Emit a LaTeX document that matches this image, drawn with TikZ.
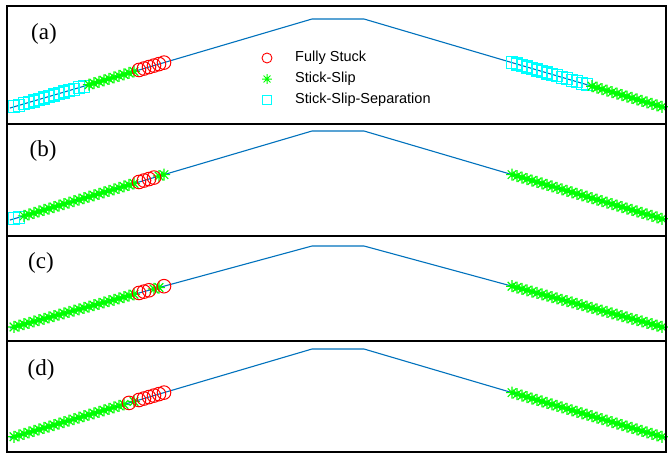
\documentclass[tikz,border=0pt]{standalone}
\usepackage{fontspec}
\setmainfont{Liberation Serif}
\newfontfamily\legendfont{Liberation Sans}
\usetikzlibrary{calc}

\definecolor{curveblue}{RGB}{0,114,189}
\definecolor{slipgreen}{RGB}{0,255,0}
\definecolor{sepcyan}{RGB}{0,255,255}

\tikzset{
  frameline/.style={line width=1.6pt, black},
  curve/.style={curveblue, line width=1.1pt},
  panellabel/.style={font=\fontsize{23}{23}\selectfont, inner sep=0pt},
  legendtext/.style={font=\legendfont\fontsize{14.5}{15}\selectfont, anchor=west, inner sep=0pt},
  pics/stuckmk/.style={code={\draw[red, line width=1pt] (0,0) circle[radius=6.8];}},
  pics/slipmk/.style={code={\draw[slipgreen, line width=1.2pt]
      (-6,0) -- (6,0) (0,-6) -- (0,6) (-4.3,-4.3) -- (4.3,4.3) (-4.3,4.3) -- (4.3,-4.3);}},
  pics/sepmk/.style={code={\draw[sepcyan, line width=1.2pt] (-5.8,-6) rectangle (5.8,6);}},
  pics/stuckleg/.style={code={\draw[red, line width=0.9pt] (0,0) circle[radius=5];}},
  pics/slipleg/.style={code={\draw[slipgreen, line width=1pt]
      (-4.8,0) -- (4.8,0) (0,-4.8) -- (0,4.8) (-3.4,-3.4) -- (3.4,3.4) (-3.4,3.4) -- (3.4,-3.4);}},
  pics/sepleg/.style={code={\draw[sepcyan, line width=1pt] (-4.5,-4.5) rectangle (4.5,4.5);}},
}

% markers along the left flank (from the outer end inward) and the right flank
\newcommand\leftmarks[3]{%
  \foreach \j [evaluate=\j as \t using (4+5*\j)/302] in {#2}
    \pic at ($(L#1)!\t!(TL#1)$) {#3};}
\newcommand\rightmarks[3]{%
  \foreach \j [evaluate=\j as \t using (4+5*\j)/302] in {#2}
    \pic at ($(R#1)!\t!(TR#1)$) {#3};}

\begin{document}
\begin{tikzpicture}[x=1pt,y=-1pt]
\useasboundingbox (0,0) rectangle (668,453);
\fill[white] (0,0) rectangle (668,453);

% profile of each panel: outer ends, top plateau
\foreach \p/\yt/\yb in {a/19/108, b/131/220, c/246/328, d/349/438}{
  \coordinate (L\p) at (10,\yb);
  \coordinate (TL\p) at (312,\yt);
  \coordinate (TR\p) at (364,\yt);
  \coordinate (R\p) at (666,\yb);
}
\begin{scope}
  \clip (7,6) rectangle (666,452);
  \foreach \p in {a,b,c,d}
    \draw[curve] (L\p) -- (TL\p) -- (TR\p) -- (R\p);
\end{scope}

% panel (a)
\leftmarks{a}{0,...,14}{sepmk}
\leftmarks{a}{15,...,24}{slipmk}
\leftmarks{a}{25,...,30}{stuckmk}
\rightmarks{a}{15,...,30}{sepmk}
\rightmarks{a}{0,...,14}{slipmk}

% panel (b)
\leftmarks{b}{0,1}{sepmk}
\leftmarks{b}{2,...,24,29,30}{slipmk}
\leftmarks{b}{25,...,28}{stuckmk}
\rightmarks{b}{0,...,30}{slipmk}

% panel (c)
\leftmarks{c}{0,...,24,28,29}{slipmk}
\leftmarks{c}{25,26,27,30}{stuckmk}
\rightmarks{c}{0,...,30}{slipmk}

% panel (d)
\leftmarks{d}{0,...,22,24}{slipmk}
\leftmarks{d}{23,25,26,27,28,29,30}{stuckmk}
\rightmarks{d}{0,...,30}{slipmk}

% legend
\pic at (267,58) {stuckleg};
\pic at (267,79) {slipleg};
\pic at (267,100) {sepleg};
\node[legendtext] (legstuck) at (295,58) {Fully Stuck};
\node[legendtext] (legslip) at (295,79) {Stick-Slip};
\node[legendtext] (legsep) at (295,100) {Stick-Slip-Separation};

% panel labels
\node[panellabel] (laba) at (44,34) {(a)};
\node[panellabel] (labb) at (43,151) {(b)};
\node[panellabel] (labc) at (41,263) {(c)};
\node[panellabel] (labd) at (41,370) {(d)};

% frame and separators
\draw[frameline] (7,6) rectangle (666,452);
\draw[frameline] (7,124) -- (666,124);
\draw[frameline] (7,236) -- (666,236);
\draw[frameline] (7,341) -- (666,341);
\end{tikzpicture}
\end{document}
